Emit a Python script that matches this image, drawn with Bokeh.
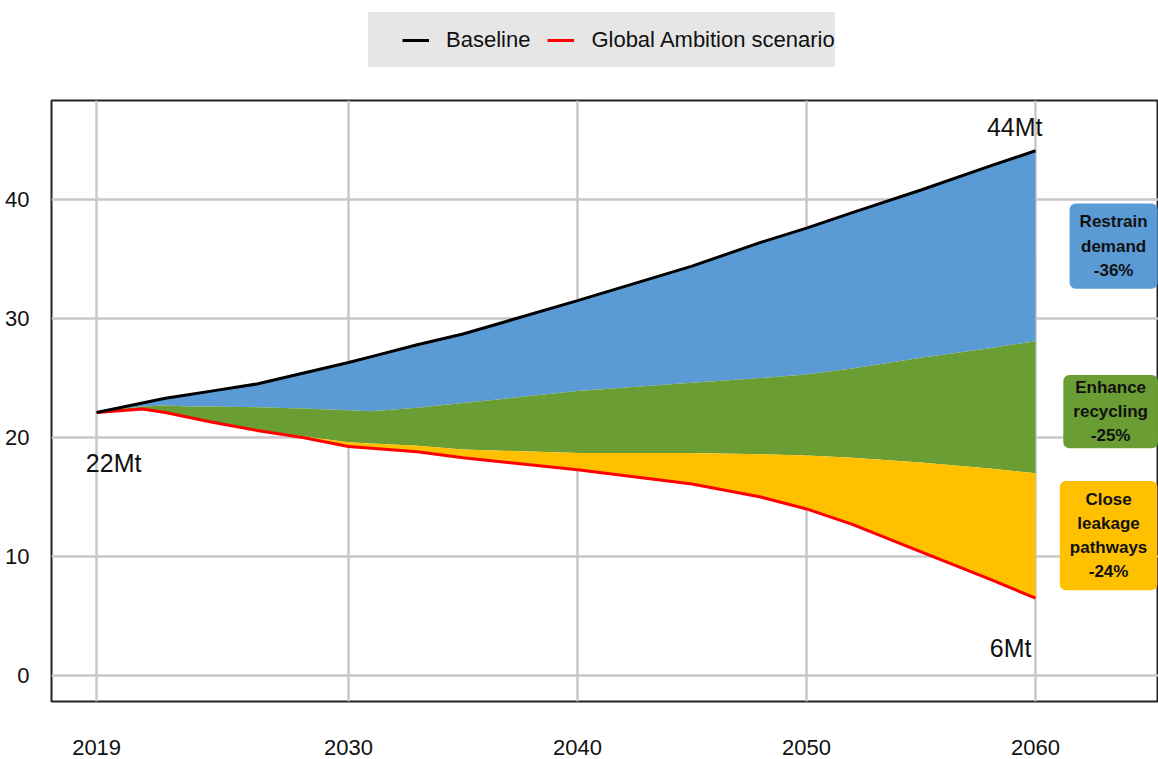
from bokeh.plotting import figure
from bokeh.layouts import column
from bokeh.models import Range1d, FixedTicker, Legend, LegendItem, Label, ColumnDataSource
from bokeh.embed import file_html
from bokeh.resources import INLINE
from bokeh.core.properties import value

# ---------------- data ----------------
years = [2019, 2020, 2021, 2022, 2023, 2024, 2026, 2028, 2030, 2031, 2033, 2035,
         2040, 2045, 2048, 2050, 2052, 2055, 2058, 2060]
baseline = [22.1, 22.5, 22.9, 23.3, 23.6, 23.9, 24.5, 25.4, 26.3, 26.8, 27.8, 28.7,
            31.5, 34.4, 36.4, 37.6, 38.9, 40.8, 42.8, 44.1]
after_demand = [22.1, 22.4, 22.6, 22.7, 22.6, 22.6, 22.55, 22.45, 22.3, 22.2, 22.5, 22.9,
                23.9, 24.6, 25.0, 25.3, 25.8, 26.7, 27.5, 28.1]
after_recycling = [22.1, 22.25, 22.4, 22.1, 21.75, 21.35, 20.65, 20.1, 19.6, 19.5, 19.3, 19.0,
                   18.7, 18.7, 18.6, 18.5, 18.3, 17.9, 17.4, 17.0]
ambition = [22.1, 22.25, 22.4, 22.1, 21.7, 21.3, 20.6, 20.0, 19.25, 19.1, 18.8, 18.3,
            17.3, 16.1, 15.0, 14.0, 12.7, 10.4, 8.1, 6.5]

x_ticks = [2019, 2030, 2040, 2050, 2060]
y_ticks = [0, 10, 20, 30, 40]

series_names = ["Baseline", "Global Ambition scenario"]
wedge_titles = ["Restrain\ndemand", "Enhance\nrecycling", "Close\nleakage\npathways"]
wedge_colors = ["#5b9bd5", "#6a9d33", "#ffc000"]

FONT = "Liberation Sans"
TEXT = "#111111"

# ---------------- main chart ----------------
p = figure(width=1158, height=663,
           x_range=Range1d(2017.03, 2065.37), y_range=Range1d(-2.18, 48.32),
           output_backend="svg", toolbar_location=None,
           min_border_left=51, min_border_right=0, min_border_bottom=58, min_border_top=4)

p.background_fill_color = "white"
p.border_fill_color = "white"
p.outline_line_color = "#222222"
p.outline_line_width = 2

tops = [baseline, after_demand, after_recycling]
bottoms = [after_demand, after_recycling, ambition]
for top, bot, col in zip(tops, bottoms, wedge_colors):
    p.varea(x=years, y1=bot, y2=top, fill_color=col, fill_alpha=1)

p.line(years, ambition, line_color="#ff0000", line_width=3)
p.line(years, baseline, line_color="#000000", line_width=3)

for ax in (p.xaxis[0], p.yaxis[0]):
    ax.axis_line_color = None
    ax.major_tick_line_color = None
    ax.minor_tick_line_color = None
    ax.major_label_text_font = FONT
    ax.major_label_text_font_size = "22px"
    ax.major_label_text_color = TEXT
p.xaxis.ticker = FixedTicker(ticks=x_ticks)
p.yaxis.ticker = FixedTicker(ticks=y_ticks)
p.xaxis.major_label_standoff = 32
p.yaxis.major_label_standoff = 16
p.grid.grid_line_color = "#c8c8c8"
p.grid.grid_line_width = 2.5
p.xgrid.ticker = FixedTicker(ticks=x_ticks)
p.ygrid.ticker = FixedTicker(ticks=y_ticks)

end_src = ColumnDataSource(dict(
    x=[years[-1], years[0], years[-1]],
    y=[baseline[-1], ambition[0], ambition[-1]],
    text=[f"{round(baseline[-1])}Mt", f"{round(ambition[0])}Mt", f"{round(ambition[-1])}Mt"],
    align=["right", "center", "right"],
    xo=[7, 17, -4],
    yo=[-24, 50, 50],
))
p.text(x="x", y="y", text="text", source=end_src, text_align="align",
       x_offset="xo", y_offset="yo", text_baseline="middle",
       text_font=value(FONT), text_font_size="25px", text_color=TEXT)

end_base = baseline[-1]
shares = [
    (baseline[-1] - after_demand[-1]) / end_base,
    (after_demand[-1] - after_recycling[-1]) / end_base,
    (after_recycling[-1] - ambition[-1]) / end_base,
]
box_pos = [(2063.41, 36.09), (2063.28, 22.18), (2063.19, 11.76)]
box_pad = [(10, 9), (10, 3), (10, 9)]
for title, share, col, (bx, by), pad in zip(wedge_titles, shares, wedge_colors, box_pos, box_pad):
    p.add_layout(Label(x=bx, y=by, text=f"{title}\n-{round(share*100)}%",
                       text_align="center", text_baseline="middle",
                       text_font=FONT, text_font_style="bold", text_font_size="17px",
                       text_color=TEXT, text_line_height=1.27,
                       background_fill_color=col, background_fill_alpha=1,
                       border_radius=6, padding=pad))

# ---------------- legend strip ----------------
lg = figure(width=1158, height=96, x_range=Range1d(0, 1), y_range=Range1d(0, 1),
            x_axis_location=None, y_axis_location=None,
            output_backend="svg", toolbar_location=None,
            min_border_left=0, min_border_right=0, min_border_top=0, min_border_bottom=0)
lg.grid.visible = False
lg.outline_line_color = None
lg.background_fill_color = "white"
lg.border_fill_color = "white"
# same series, outside the strip's view: only their legend swatches show
l_base = lg.line(years, baseline, line_color="#000000", line_width=3)
l_red = lg.line(years, ambition, line_color="#ff0000", line_width=3)

legend = Legend(items=[LegendItem(label=series_names[0], renderers=[l_base]),
                       LegendItem(label=series_names[1], renderers=[l_red])],
                orientation="horizontal", location=(317, 29))
legend.title = " "
legend.title_location = "left"
legend.title_standoff = 19
legend.label_text_font = FONT
legend.label_text_font_size = "22px"
legend.label_text_color = TEXT
legend.label_height = 55
legend.background_fill_color = "#e6e6e6"
legend.background_fill_alpha = 1
legend.border_line_color = None
legend.padding = 15
legend.spacing = 17
legend.label_standoff = 17
legend.glyph_width = 27
legend.margin = 0
lg.add_layout(legend)

layout = column(lg, p, spacing=0)
open("out.html", "w").write(file_html(layout, INLINE))
